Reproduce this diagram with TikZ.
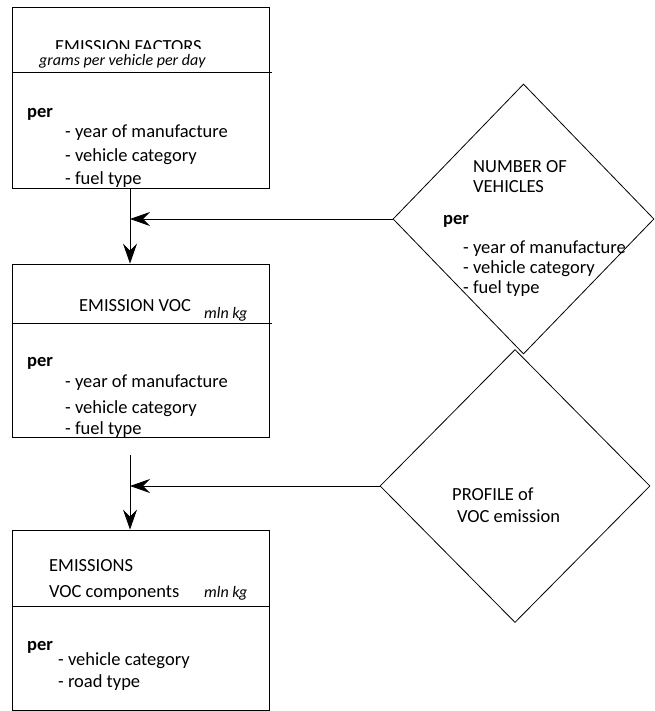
\documentclass[tikz,border=0pt]{standalone}
\usepackage{fontspec}
\setmainfont{Carlito}
\usetikzlibrary{shapes.geometric,arrows.meta}

\tikzset{
  box/.style={draw, rectangle, line width=0.8pt, inner sep=0pt},
  dia/.style={draw, diamond, line width=0.8pt, inner sep=0pt},
  arr/.style={line width=0.8pt, -{Stealth[length=20pt,width=14pt,inset=7pt]}},
  txt/.style={anchor=base west, inner sep=0pt, font=\fontsize{18.5}{22}\selectfont},
  unit/.style={anchor=base west, inner sep=0pt, font=\fontsize{16}{19}\selectfont\itshape},
}

\begin{document}
\begin{tikzpicture}[x=1pt, y=-1pt]
    \useasboundingbox (0,0) rectangle (654,711);

    % 1. Define Coordinates (junctions on the main line)
    \coordinate (J1) at (130,219);
    \coordinate (S2) at (130,455);
    \coordinate (J2) at (130,486);

    % 2. Draw the Boxes and their dividers
    \node[box, minimum width=257pt, minimum height=181pt] (EF) at (140.5,97.5) {};
    \node[box, minimum width=257pt, minimum height=173pt] (EV) at (140.5,350.5) {};
    \node[box, minimum width=257pt, minimum height=180pt] (EC) at (140.5,620) {};
    \draw[line width=0.8pt] (EF.west |- 0,72) -- (272,72);
    \draw[line width=0.8pt] (EV.west |- 0,323) -- (272,323);
    \draw[line width=0.8pt] (EC.west |- 0,606) -- (270,606);

    % 3. Draw the Diamonds
    \node[dia, minimum width=261pt, minimum height=270pt] (NV) at (523.5,219) {};
    \node[dia, minimum width=270pt, minimum height=273pt] (PR) at (515,486) {};

    % 4. Arrows
    \draw[arr] (EF.south -| J1) -- (EV.north -| J1);
    \draw[arr] (NV.west) -- (J1);
    \draw[arr] (S2) -- (EC.north -| S2);
    \draw[arr] (PR.west) -- (J2);

    % 5. Texts of the first box (title cut by the frame)
    \begin{scope}
        \clip (12,7) rectangle (269,49);
        \node[txt] (efA) at (55,53) {EMISSION FACTORS};
    \end{scope}
    \node[unit] (efB) at (39,66) {grams per vehicle per day};
    \node[txt] (efC) at (27,118) {\textbf{per}};
    \node[txt] (efD) at (65,138) {- year of manufacture};
    \node[txt] (efE) at (65,162) {- vehicle category};
    \node[txt] (efF) at (65,185) {- fuel type};

    % 6. Texts of the second box
    \node[txt] (evA) at (79,311) {EMISSION VOC};
    \node[unit] (evB) at (204,318) {mln kg};
    \node[txt] (evC) at (27,366) {\textbf{per}};
    \node[txt] (evD) at (65,387) {- year of manufacture};
    \node[txt] (evE) at (65,413) {- vehicle category};
    \node[txt] (evF) at (65,434) {- fuel type};

    % 7. Texts of the third box
    \node[txt] (ecA) at (49,571) {EMISSIONS};
    \node[txt] (ecB) at (49,597) {VOC components};
    \node[unit] (ecC) at (204,597) {mln kg};
    \node[txt] (ecD) at (27,650) {\textbf{per}};
    \node[txt] (ecE) at (58,665) {- vehicle category};
    \node[txt] (ecF) at (58,687) {- road type};

    % 8. Texts of the diamonds
    \node[txt] (nvA) at (473,173) {NUMBER OF};
    \node[txt] (nvB) at (473,193) {VEHICLES};
    \node[txt] (nvC) at (443,224) {\textbf{per}};
    \node[txt] (nvD) at (463,253) {- year of manufacture};
    \node[txt] (nvE) at (463,273) {- vehicle category};
    \node[txt] (nvF) at (463,293) {- fuel type};
    \node[txt] (prA) at (452,500) {PROFILE of};
    \node[txt] (prB) at (457,522) {VOC emission};

\end{tikzpicture}
\end{document}
